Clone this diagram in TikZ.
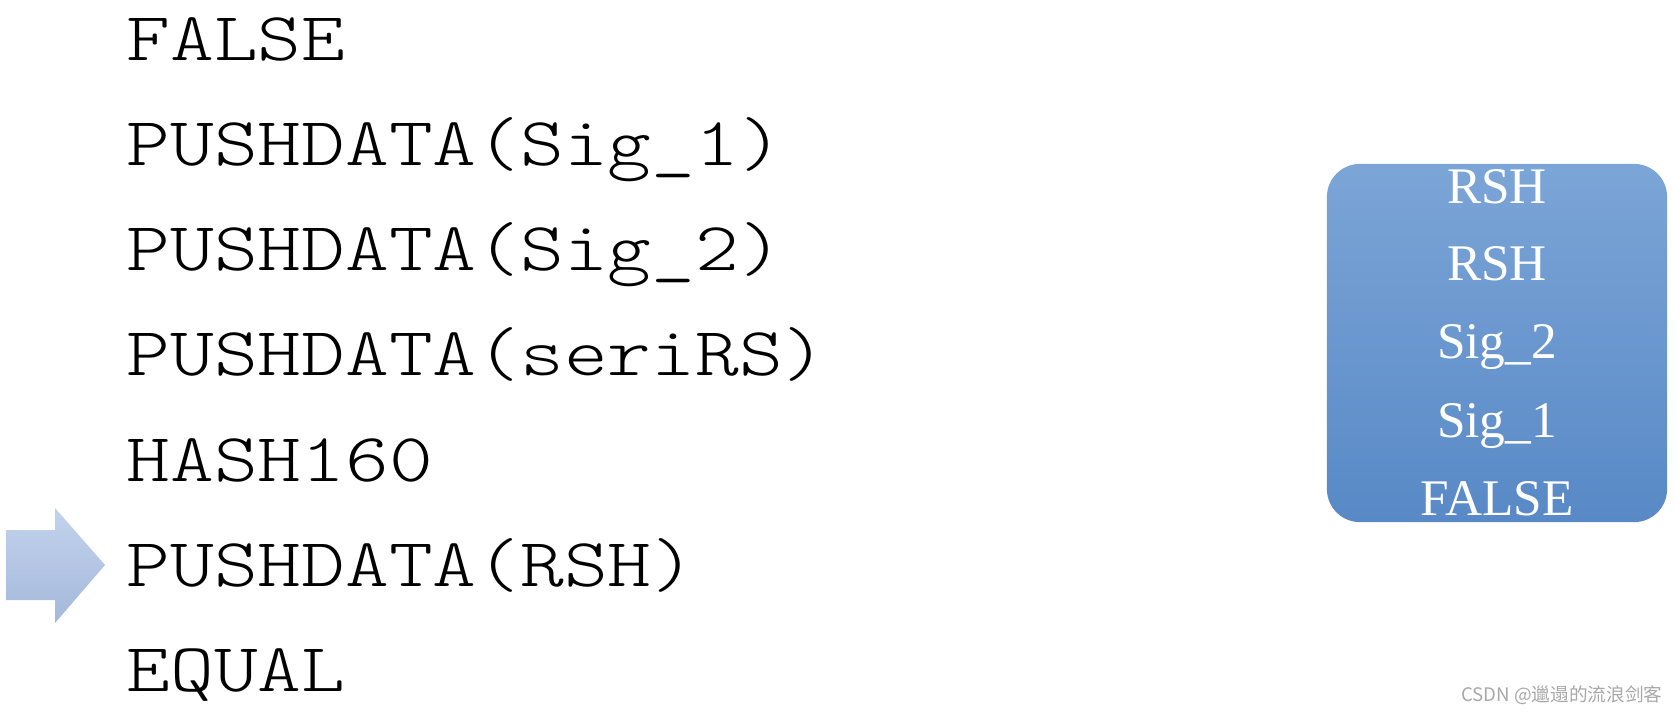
\documentclass[tikz,border=0pt]{standalone}
\usepackage{fontspec}
\setmainfont{Liberation Serif}
\newfontfamily\cjkfont{Noto Sans CJK SC}
\newfontfamily\opfont{lmmonolt10-regular.otf}
\usetikzlibrary{positioning}
\definecolor{stacktop}{HTML}{7CA5D7}
\definecolor{stackbot}{HTML}{5889C6}
\definecolor{ptrtop}{HTML}{C3D3EC}
\definecolor{ptrbot}{HTML}{A3B8DB}
\definecolor{markgray}{HTML}{A8A8A8}
\newcommand{\opw}[1]{\scalebox{1.212}[1]{#1}}

\begin{document}
\begin{tikzpicture}[
    x=0.01cm, y=-0.01cm,
    opline/.style={anchor=base west, inner sep=0pt,
                   font=\opfont\fontsize{19.55pt}{22pt}\selectfont},
    stackbox/.style={rounded corners=0.33cm, minimum width=3.4cm, minimum height=3.58cm,
                     top color=stacktop, bottom color=stackbot, inner sep=0pt},
    item/.style={anchor=base, inner sep=0pt, text=white,
                 font=\rmfamily\fontsize{14.6pt}{18pt}\selectfont},
    credit/.style={anchor=base east, inner sep=0pt, text=markgray,
                   font=\cjkfont\fontsize{5.3pt}{7pt}\selectfont},
]
\useasboundingbox (0,0) rectangle (1676,714);

% Script lines
\node[opline] (l1) at (126, 60)  {\opw{FALSE}};
\node[opline] (l2) at (126, 165) {\opw{PUSHDATA(Sig\_1)}};
\node[opline] (l3) at (126, 270) {\opw{PUSHDATA(Sig\_2)}};
\node[opline] (l4) at (126, 375) {\opw{PUSHDATA(seriRS)}};
\node[opline] (l5) at (126, 481) {\opw{HASH160}};
\node[opline] (l6) at (126, 586) {\opw{PUSHDATA(RSH)}};
\node[opline] (l7) at (126, 691) {\opw{EQUAL}};

% Current instruction pointer
\shade[top color=ptrtop, bottom color=ptrbot]
  (6,530) -- (55,530) -- (55,508) -- (105,565) -- (55,623) -- (55,600) -- (6,600) -- cycle;

% Stack
\node[stackbox] (stack) at (1497, 343) {};
\node[item] (s5) at (1497, 203) {RSH};
\node[item] (s4) at (1497, 280) {RSH};
\node[item] (s3) at (1497, 358) {Sig\_2};
\node[item] (s2) at (1497, 437) {Sig\_1};
\node[item] (s1) at (1497, 515) {FALSE};

\node[credit] (wm) at (1663, 701) {CSDN @邋遢的流浪剑客};

\end{tikzpicture}
\end{document}
